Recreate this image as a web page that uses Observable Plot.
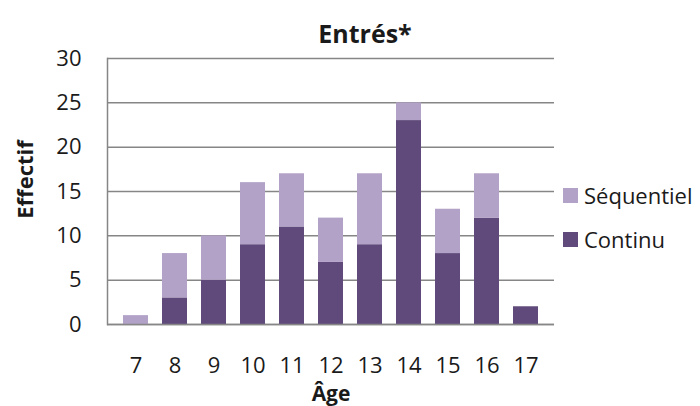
<!DOCTYPE html>
<html><head><meta charset="utf-8">
<script src="https://cdn.jsdelivr.net/npm/d3@7"></script>
<script src="https://cdn.jsdelivr.net/npm/@observablehq/plot@0.6"></script>
<style>
body{margin:0;background:#fff;font-family:"Open Sans",sans-serif;}
#wrap{position:relative;width:700px;height:406px;}
.leg{position:absolute;left:563px;font-size:22px;color:#1a1a1a;display:flex;align-items:center;white-space:nowrap;}
.leg span.sw{display:inline-block;width:15px;height:15px;margin-right:6px;}
</style></head>
<body><div id="wrap"></div>
<script>
const ages = ["7","8","9","10","11","12","13","14","15","16","17"];
const continu = [0,3,5,9,11,7,9,23,8,12,2];
const sequentiel = [1,5,5,7,6,5,8,2,5,5,0];
const series = ["Continu","Séquentiel"];
const colors = ["#604A7B","#B3A2C7"];
const yTicks = [0,5,10,15,20,25,30];

const data = [];
ages.forEach((a,i)=>{
  data.push({age:a, s:"Continu", v:continu[i]});
  data.push({age:a, s:"Séquentiel", v:sequentiel[i]});
});

const chart = Plot.plot({
  width:700, height:406,
  marginLeft:107, marginRight:146, marginTop:58, marginBottom:82,
  style:{fontFamily:"Open Sans, sans-serif", fontSize:"22px", color:"#1a1a1a"},
  x:{domain:ages, padding:0.36, label:null},
  y:{domain:[0,30], ticks:yTicks, label:null},
  color:{domain:series, range:colors},
  marks:[
    Plot.gridY(yTicks,{stroke:"#868686", strokeOpacity:1, strokeWidth:1.5}),
    Plot.barY(data,{x:"age", y:"v", fill:"s", order:series}),
    Plot.frame({anchor:"left", stroke:"#868686", strokeWidth:1.5}),
    Plot.ruleY([0],{stroke:"#868686", strokeWidth:1.5}),
    Plot.axisY(yTicks,{tickSize:0, tickPadding:26, fontSize:22, fill:"#1a1a1a"}),
    Plot.axisX({tickSize:0, tickPadding:33, fontSize:22, fill:"#1a1a1a"}),
    Plot.text(["Entrés*"],{frameAnchor:"top", dx:34, dy:-33, fontSize:25, fontWeight:"bold", fill:"#1a1a1a"}),
    Plot.text(["Âge"],{frameAnchor:"bottom", dy:76, fontSize:21, fontWeight:"bold", fill:"#1a1a1a"}),
    Plot.text(["Effectif"],{frameAnchor:"left", textAnchor:"middle", dx:-82, dy:-12, rotate:-90, fontSize:22, fontWeight:"bold", fill:"#1a1a1a"})
  ]
});
const wrap = document.getElementById("wrap");
wrap.appendChild(chart);
[["Séquentiel",colors[1],196],["Continu",colors[0],240]].forEach(([t,c,y])=>{
  const d=document.createElement("div");
  d.className="leg";
  d.style.top=(y-16)+"px";
  d.innerHTML=`<span class="sw" style="background:${c}"></span>${t}`;
  wrap.appendChild(d);
});
</script></body></html>
